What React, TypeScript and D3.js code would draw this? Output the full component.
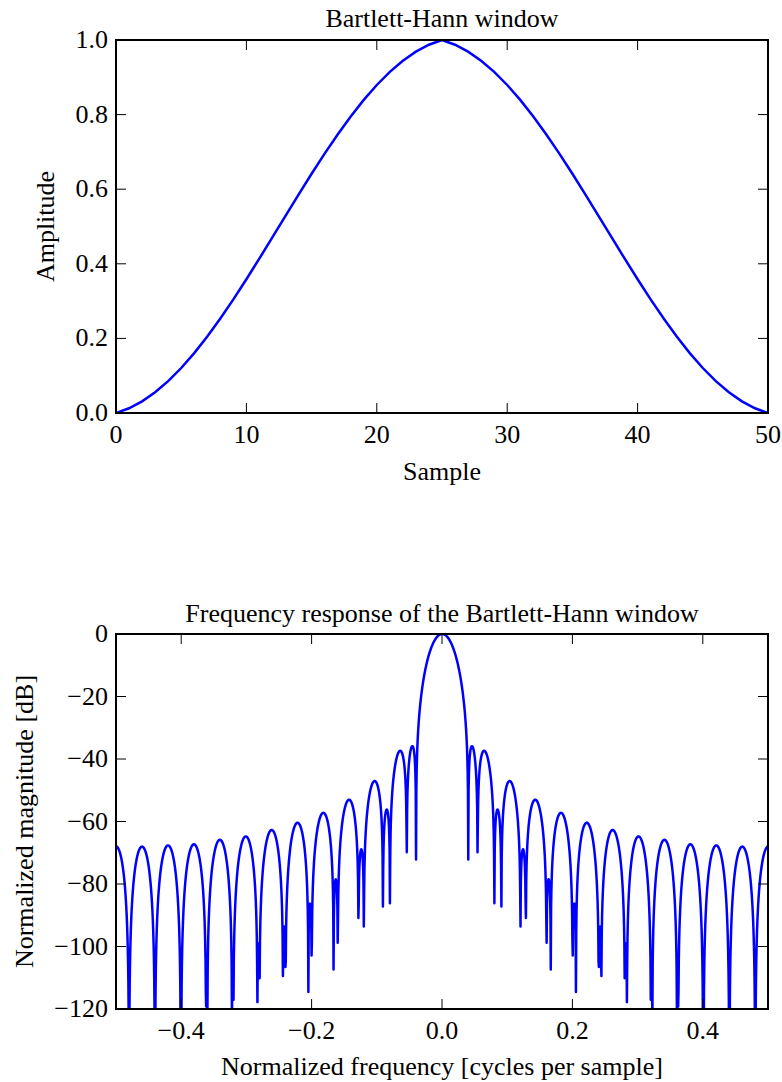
import React from "react";
import * as d3 from "d3";

// Bartlett-Hann window, 51 samples
const windowValues: number[] = [
  0.0, 0.0126, 0.0311, 0.0555, 0.0854, 0.1206, 0.1606, 0.205, 0.2532, 0.3046,
  0.3586, 0.4144, 0.4713, 0.5287, 0.5856, 0.6414, 0.6954, 0.7468, 0.795, 0.8394,
  0.8794, 0.9146, 0.9445, 0.9689, 0.9874, 1.0, 0.9874, 0.9689, 0.9445, 0.9146,
  0.8794, 0.8394, 0.795, 0.7468, 0.6954, 0.6414, 0.5856, 0.5287, 0.4713, 0.4144,
  0.3586, 0.3046, 0.2532, 0.205, 0.1606, 0.1206, 0.0854, 0.0555, 0.0311, 0.0126,
  0.0,
];
const fftSize = 2048;

const topXTicks = [0, 10, 20, 30, 40, 50];
const topYTicks = [0, 0.2, 0.4, 0.6, 0.8, 1.0];
const botXTicks = [-0.4, -0.2, 0, 0.2, 0.4];
const botYTicks = [0, -20, -40, -60, -80, -100, -120];

const titles = ["Bartlett-Hann window", "Frequency response of the Bartlett-Hann window"];
const xLabels = ["Sample", "Normalized frequency [cycles per sample]"];
const yLabels = ["Amplitude", "Normalized magnitude [dB]"];

// frequency response derived from the window (zero-padded DFT)
function frequencyResponse(): { f: number; db: number }[] {
  const M = windowValues.length;
  const mags: number[] = new Array(fftSize);
  for (let k = 0; k < fftSize; k++) {
    let re = 0, im = 0;
    for (let n = 0; n < M; n++) {
      const a = (-2 * Math.PI * k * n) / fftSize;
      re += windowValues[n] * Math.cos(a);
      im += windowValues[n] * Math.sin(a);
    }
    mags[k] = Math.sqrt(re * re + im * im);
  }
  const mx = d3.max(mags) as number;
  const shifted = mags.slice(fftSize / 2).concat(mags.slice(0, fftSize / 2));
  return shifted.map((m, i) => ({
    f: -0.5 + i / (fftSize - 1),
    db: Math.max(20 * Math.log10(Math.max(m / mx, 1e-12)), -400),
  }));
}

const FONT = "'Liberation Serif', 'Times New Roman', serif";
const FS = 26;
const minus = (s: string) => s.replace("-", "\u2212");

export default function App() {
  const W = 782, H = 1082;
  const L = 116, R = 768;
  const p1 = { top: 40, bottom: 413 };
  const p2 = { top: 634, bottom: 1009 };

  const x1 = d3.scaleLinear().domain([0, 50]).range([L, R]);
  const y1 = d3.scaleLinear().domain([0, 1]).range([p1.bottom, p1.top]);
  const x2 = d3.scaleLinear().domain([-0.5, 0.5]).range([L, R]);
  const y2 = d3.scaleLinear().domain([-120, 0]).range([p2.bottom, p2.top]);

  const line1 = d3.line<number>().x((_, i) => x1(i)).y((d) => y1(d))(windowValues) as string;
  const resp = frequencyResponse();
  const line2 = d3.line<{ f: number; db: number }>().x((d) => x2(d.f)).y((d) => y2(d.db))(resp) as string;

  const tickLen = 10;

  const frame = (top: number, bottom: number) => (
    <rect x={L} y={top} width={R - L} height={bottom - top} fill="none" stroke="#000" strokeWidth={2} />
  );

  const xTicks = (ticks: number[], sx: (v: number) => number, top: number, bottom: number, fmt: (v: number) => string) =>
    ticks.map((t) => (
      <g key={"x" + t}>
        <line x1={sx(t)} x2={sx(t)} y1={bottom} y2={bottom - tickLen} stroke="#000" strokeWidth={1} />
        <line x1={sx(t)} x2={sx(t)} y1={top} y2={top + tickLen} stroke="#000" strokeWidth={1} />
        <text x={sx(t)} y={bottom + 30} textAnchor="middle" fontSize={FS}>{fmt(t)}</text>
      </g>
    ));
  const yTicks = (ticks: number[], sy: (v: number) => number, fmt: (v: number) => string) =>
    ticks.map((t) => (
      <g key={"y" + t}>
        <line x1={L} x2={L + tickLen} y1={sy(t)} y2={sy(t)} stroke="#000" strokeWidth={1} />
        <line x1={R} x2={R - tickLen} y1={sy(t)} y2={sy(t)} stroke="#000" strokeWidth={1} />
        <text x={L - 8} y={sy(t) + 8} textAnchor="end" fontSize={FS}>{fmt(t)}</text>
      </g>
    ));

  return (
    <svg width={W} height={H} style={{ position: "absolute", left: 0, top: 0, background: "#fff" }} fontFamily={FONT}>
      <defs>
        <clipPath id="c1"><rect x={L} y={p1.top} width={R - L} height={p1.bottom - p1.top} /></clipPath>
        <clipPath id="c2"><rect x={L} y={p2.top} width={R - L} height={p2.bottom - p2.top} /></clipPath>
      </defs>
      {/* top panel */}
      <path d={line1} fill="none" stroke="#0000ff" strokeWidth={2.5} clipPath="url(#c1)" />
      {xTicks(topXTicks, x1, p1.top, p1.bottom, (v) => d3.format("d")(v))}
      {yTicks(topYTicks, y1, (v) => d3.format(".1f")(v))}
      {frame(p1.top, p1.bottom)}
      <text x={(L + R) / 2} y={27} textAnchor="middle" fontSize={FS}>{titles[0]}</text>
      <text x={(L + R) / 2} y={480} textAnchor="middle" fontSize={FS}>{xLabels[0]}</text>
      <text transform={`translate(54,${(p1.top + p1.bottom) / 2}) rotate(-90)`} textAnchor="middle" fontSize={FS}>{yLabels[0]}</text>

      {/* bottom panel */}
      <path d={line2} fill="none" stroke="#0000ff" strokeWidth={2.5} strokeLinejoin="round" clipPath="url(#c2)" />
      {xTicks(botXTicks, x2, p2.top, p2.bottom, (v) => minus(d3.format(".1f")(v)))}
      {yTicks(botYTicks, y2, (v) => minus(d3.format("d")(v)))}
      {frame(p2.top, p2.bottom)}
      <text x={(L + R) / 2} y={622} textAnchor="middle" fontSize={FS}>{titles[1]}</text>
      <text x={(L + R) / 2} y={1075} textAnchor="middle" fontSize={FS}>{xLabels[1]}</text>
      <text transform={`translate(33,${(p2.top + p2.bottom) / 2}) rotate(-90)`} textAnchor="middle" fontSize={FS}>{yLabels[1]}</text>
    </svg>
  );
}
